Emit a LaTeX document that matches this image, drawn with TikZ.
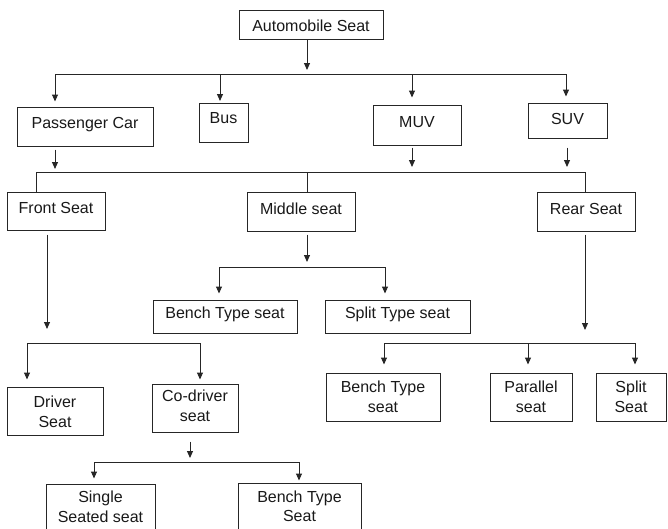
\documentclass[tikz,border=0pt]{standalone}
\usepackage{fontspec}
\setmainfont{Liberation Sans}
\usetikzlibrary{arrows.meta}
\tikzset{
  box/.style={draw=black!85, line width=1pt, inner sep=0pt, fill=white},
  txt/.style={inner sep=0pt, align=center, font=\fontsize{16}{19.5}\selectfont, text=black!90},
  ln/.style={draw=black!85, line width=1pt},
  arr/.style={ln, -{Triangle[length=7pt,width=6pt]}},
}
\newcommand\mkbox[7]{%
  \node[box, minimum width={(#4-#2)*1pt}, minimum height={(#5-#3)*1pt}] (#1) at ({(#2+#4)/2},{(#3+#5)/2}) {};
  \node[txt] (#1-t) at ([yshift=#7]#1.center) {#6};
}
\begin{document}
\begin{tikzpicture}[x=1pt,y=-1pt]
\useasboundingbox (0,0) rectangle (668,528);
% boxes
\mkbox{auto}{239}{10}{383}{39}{Automobile Seat}{-1pt}
\mkbox{pc}{17}{107}{153}{146}{Passenger Car}{2pt}
\mkbox{bus}{199}{103}{248}{142}{Bus}{4pt}
\mkbox{muv}{373}{105}{461}{145}{MUV}{3pt}
\mkbox{suv}{528}{103}{607}{138}{SUV}{1.5pt}
\mkbox{front}{7}{192}{105}{230}{Front Seat}{3pt}
\mkbox{mid}{247}{192}{355}{231}{Middle seat}{3pt}
\mkbox{rear}{537}{192}{635}{231}{Rear Seat}{3pt}
\mkbox{benchA}{153}{300}{297}{333}{Bench Type seat}{2pt}
\mkbox{splitA}{325}{300}{470}{333}{Split Type seat}{2pt}
\mkbox{driver}{7}{387}{103}{435}{Driver\\Seat}{-1pt}
\mkbox{codriver}{152}{384}{238}{432}{Co-driver\\seat}{2pt}
\mkbox{benchB}{326}{373}{440}{421}{Bench Type\\seat}{0pt}
\mkbox{parallel}{490}{373}{572}{421}{Parallel\\seat}{0pt}
\mkbox{splitB}{596}{373}{666}{421}{Split\\Seat}{0pt}
\mkbox{single}{46}{484}{155}{532}{Single\\Seated seat}{1pt}
\mkbox{benchC}{238}{483}{361}{532}{Bench Type\\Seat}{1pt}
% level 1
\coordinate (j0) at (307,70);
\draw[arr] (auto.south -| j0) -- (j0);
\coordinate (h1a) at (55,74);
\coordinate (h1b) at (220,74);
\coordinate (h1c) at (412,74);
\coordinate (h1d) at (566,74);
\draw[ln] (h1a) -- (h1d);
\draw[arr, shorten >=5pt] (h1a) -- (h1a |- pc.north);
\draw[arr, shorten >=1.5pt] (h1b) -- (h1b |- bus.north);
\draw[arr, shorten >=7pt] (h1c) -- (h1c |- muv.north);
\draw[arr, shorten >=6pt] (h1d) -- (h1d |- suv.north);
% level 2
\coordinate (p2a) at (55,169);
\coordinate (p2c) at (412,167);
\coordinate (p2d) at (567,167);
\draw[arr, shorten <=3pt] (pc.south -| p2a) -- (p2a);
\draw[arr, shorten <=2pt] (muv.south -| p2c) -- (p2c);
\draw[arr, shorten <=9pt] (suv.south -| p2d) -- (p2d);
\coordinate (h2a) at (36,172);
\coordinate (h2b) at (307,172);
\coordinate (h2c) at (585,172);
\draw[ln] (h2a) -- (h2c);
\draw[ln] (h2a) -- (h2a |- front.north);
\draw[ln] (h2b) -- (h2b |- mid.north);
\draw[ln] (h2c) -- (h2c |- rear.north);
% level 3
\coordinate (f3) at (47,329);
\draw[arr, shorten <=4pt] (front.south -| f3) -- (f3);
\coordinate (m3) at (307,262);
\draw[arr, shorten <=3pt] (mid.south -| m3) -- (m3);
\coordinate (r3) at (585,330);
\draw[arr, shorten <=3pt] (rear.south -| r3) -- (r3);
% middle branch
\coordinate (hma) at (219,267);
\coordinate (hmb) at (385,267);
\draw[ln] (hma) -- (hmb);
\draw[arr, shorten >=6pt] (hma) -- (hma |- benchA.north);
\draw[arr, shorten >=6pt] (hmb) -- (hmb |- splitA.north);
% front branch
\coordinate (hfa) at (27,343);
\coordinate (hfb) at (200,343);
\draw[ln] (hfa) -- (hfb);
\draw[arr, shorten >=7pt] (hfa) -- (hfa |- driver.north);
\draw[arr, shorten >=4pt] (hfb) -- (hfb |- codriver.north);
% rear branch
\coordinate (hra) at (384,343);
\coordinate (hrb) at (528,343);
\coordinate (hrc) at (635,343);
\draw[ln] (hra) -- (hrc);
\draw[arr, shorten >=8pt] (hra) -- (hra |- benchB.north);
\draw[arr, shorten >=8pt] (hrb) -- (hrb |- parallel.north);
\draw[arr, shorten >=8pt] (hrc) -- (hrc |- splitB.north);
% co-driver branch
\coordinate (c4) at (190,458);
\draw[arr, shorten <=9pt] (codriver.south -| c4) -- (c4);
\coordinate (hca) at (94,462);
\coordinate (hcb) at (299,462);
\draw[ln] (hca) -- (hcb);
\draw[arr, shorten >=5pt] (hca) -- (hca |- single.north);
\draw[arr, shorten >=2pt] (hcb) -- (hcb |- benchC.north);
\end{tikzpicture}
\end{document}
